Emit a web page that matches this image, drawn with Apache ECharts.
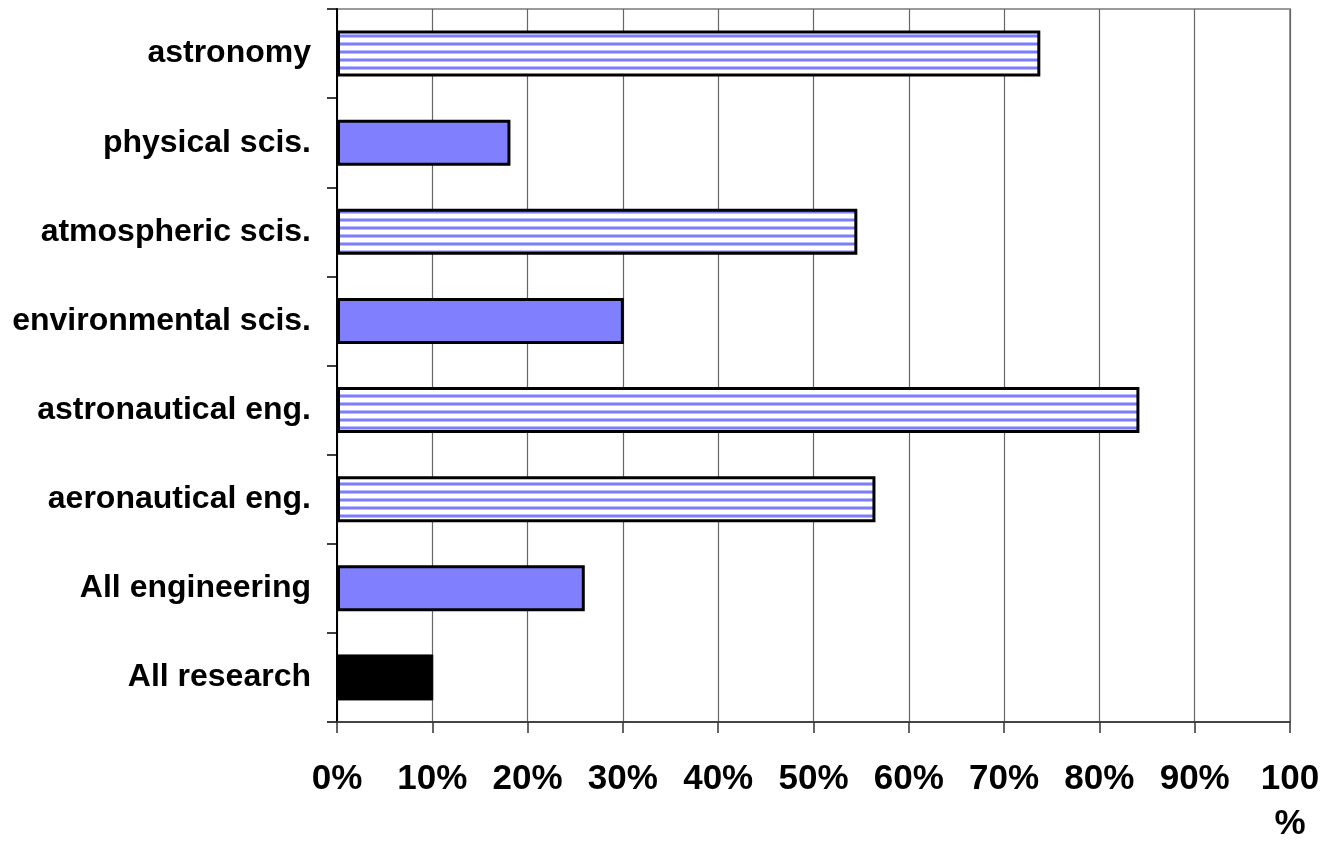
<!DOCTYPE html>
<html>
<head>
<meta charset="utf-8">
<script src="https://cdn.jsdelivr.net/npm/echarts@6/dist/echarts.min.js"></script>
<style>
html,body{margin:0;padding:0;background:#fff;}
#chart{width:1324px;height:841px;}
</style>
</head>
<body>
<div id="chart"></div>
<script>
// Data (top to bottom)
const categories = ['astronomy', 'physical scis.', 'atmospheric scis.', 'environmental scis.',
  'astronautical eng.', 'aeronautical eng.', 'All engineering', 'All research'];
const values = [73.8, 18.2, 54.6, 30.1, 84.2, 56.5, 26.0, 10.1];
const fillKinds = ['striped', 'solid', 'striped', 'solid', 'striped', 'striped', 'solid', 'dark'];
const xTicks = [0, 10, 20, 30, 40, 50, 60, 70, 80, 90, 100];

// stripe pattern
const pc = document.createElement('canvas');
pc.width = 8; pc.height = 8;
const ctx = pc.getContext('2d');
ctx.fillStyle = '#ffffff'; ctx.fillRect(0, 0, 8, 8);
ctx.fillStyle = '#bcbcff'; ctx.fillRect(0, 2, 8, 1); ctx.fillRect(0, 5, 8, 1);
ctx.fillStyle = '#7c7cff'; ctx.fillRect(0, 3, 8, 2);
const stripe = { image: pc, repeat: 'repeat' };

const fillFor = { striped: stripe, solid: '#8080ff', dark: '#000000' };

const chart = echarts.init(document.getElementById('chart'));
chart.setOption({
  animation: false,
  backgroundColor: '#ffffff',
  grid: {
    left: 337, right: 34, top: 9, bottom: 119,
    outerBoundsMode: 'none', containLabel: false,
    show: true, borderColor: '#9a9a9a', borderWidth: 2, backgroundColor: 'transparent'
  },
  xAxis: {
    type: 'value', min: xTicks[0], max: xTicks[xTicks.length - 1], interval: 10,
    axisLine: { show: true, lineStyle: { color: '#444444', width: 2 } },
    axisTick: { show: true, length: 11, inside: false, lineStyle: { color: '#333333', width: 1.5 } },
    splitLine: { show: true, lineStyle: { color: '#666666', width: 1.2 } },
    axisLabel: {
      margin: 35,
      fontFamily: 'Arial, "Liberation Sans", sans-serif',
      fontWeight: 'bold', fontSize: 35, color: '#000', lineHeight: 45,
      showMaxLabel: true, hideOverlap: false,
      formatter: v => (v === 100 ? '100\n%' : v + '%')
    }
  },
  yAxis: {
    type: 'category', data: categories, inverse: true,
    axisLine: { show: true, lineStyle: { color: '#000000', width: 2 } },
    axisTick: { show: true, length: 10, lineStyle: { color: '#000', width: 1.5 } },
    axisLabel: {
      margin: 26,
      fontFamily: 'Arial, "Liberation Sans", sans-serif',
      fontWeight: 'bold', fontSize: 32, color: '#000',
      padding: [3, 0, 0, 0]
    },
    splitLine: { show: false }
  },
  series: [{
    type: 'bar',
    barWidth: 46,
    data: values.map((v, i) => ({
      value: v,
      itemStyle: {
        color: fillFor[fillKinds[i]],
        borderColor: '#000', borderWidth: fillKinds[i] === 'dark' ? 1 : 3
      }
    }))
  }]
});
</script>
</body>
</html>
